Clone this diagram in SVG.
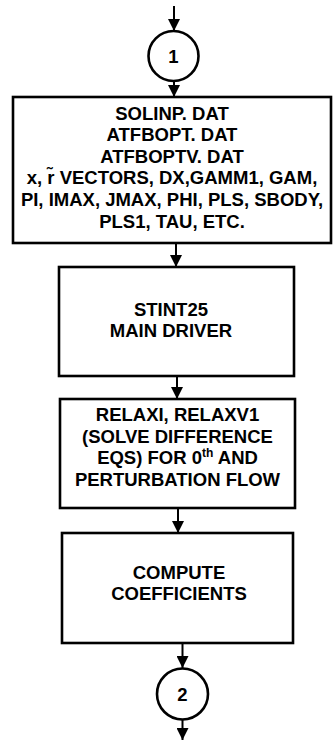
<svg xmlns="http://www.w3.org/2000/svg" width="333" height="740" viewBox="0 0 333 740">
<style>
.box{fill:#fff;stroke:#000;stroke-width:2.6}
.circ{fill:#fff;stroke:#000;stroke-width:2.6}
.t{font-family:"Liberation Sans",Arial,Helvetica,sans-serif;font-weight:bold;font-size:18.5px;text-anchor:middle;fill:#000}
.c{fill:none;stroke:#000;stroke-width:2}
</style>
<defs>
<marker id="ah" viewBox="0 0 12 12" refX="12" refY="6" markerWidth="12" markerHeight="12" markerUnits="userSpaceOnUse" orient="auto">
<path d="M0,0 L12,6 L0,12 z" fill="#000"/>
</marker>
</defs>
<rect width="333" height="740" fill="#fff"/>
<g id="connectors">
<line class="c" x1="174" y1="6" x2="174" y2="31" marker-end="url(#ah)"/>
<line class="c" x1="174" y1="81" x2="174" y2="97" marker-end="url(#ah)"/>
<line class="c" x1="176" y1="243" x2="176" y2="267" marker-end="url(#ah)"/>
<line class="c" x1="177" y1="376" x2="177" y2="399" marker-end="url(#ah)"/>
<line class="c" x1="178" y1="508" x2="178" y2="533" marker-end="url(#ah)"/>
<line class="c" x1="182.5" y1="643" x2="182.5" y2="668" marker-end="url(#ah)"/>
<line class="c" x1="182.5" y1="720" x2="182.5" y2="740" marker-end="url(#ah)"/>
</g>
<g id="connector1">
<circle class="circ" cx="173.5" cy="56" r="25"/>
<text class="t" x="173.5" y="62.5">1</text>
</g>
<g id="inputs">
<rect class="box" x="13" y="97" width="318" height="146"/>
<text class="t" x="172" y="119.5">SOLINP. DAT</text>
<text class="t" x="172" y="141">ATFBOPT. DAT</text>
<text class="t" x="172" y="162.5">ATFBOPTV. DAT</text>
<text class="t" x="172" y="184">x, r̃ VECTORS, DX,GAMM1, GAM,</text>
<text class="t" x="172" y="206">PI, IMAX, JMAX, PHI, PLS, SBODY,</text>
<text class="t" x="172" y="227.5">PLS1, TAU, ETC.</text>
</g>
<g id="stint25">
<rect class="box" x="59" y="267" width="235" height="109"/>
<text class="t" x="171" y="315.5">STINT25</text>
<text class="t" x="171" y="337">MAIN DRIVER</text>
</g>
<g id="relax">
<rect class="box" x="60" y="399" width="235" height="109"/>
<text class="t" x="177.5" y="421">RELAXI, RELAXV1</text>
<text class="t" x="177.5" y="442.5">(SOLVE DIFFERENCE</text>
<text class="t" x="177.5" y="464">EQS) FOR 0<tspan font-size="12" dy="-7">th</tspan><tspan dy="7"> AND</tspan></text>
<text class="t" x="177.5" y="485.5">PERTURBATION FLOW</text>
</g>
<g id="compute">
<rect class="box" x="62" y="533" width="231" height="110"/>
<text class="t" x="179" y="579">COMPUTE</text>
<text class="t" x="179" y="600">COEFFICIENTS</text>
</g>
<g id="connector2">
<circle class="circ" cx="182.5" cy="694" r="25.5"/>
<text class="t" x="182.5" y="700.5">2</text>
</g>
</svg>
